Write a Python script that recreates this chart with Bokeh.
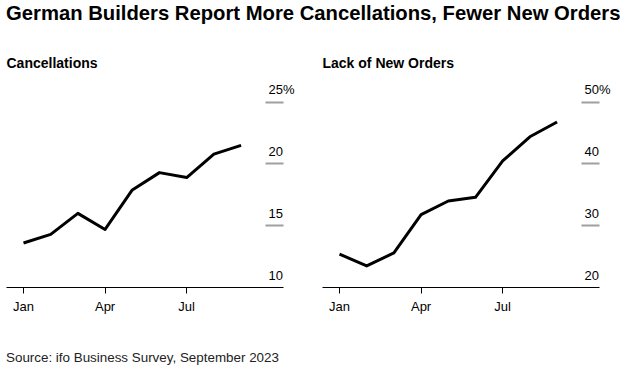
from bokeh.plotting import figure
from bokeh.layouts import column, row
from bokeh.models import Div, FixedTicker, LinearAxis, Range1d
from bokeh.embed import file_html
from bokeh.resources import INLINE

# ---- data ----
months = ["Jan", "Feb", "Mar", "Apr", "May", "Jun", "Jul", "Aug", "Sep"]
cancellations = [13.6, 14.3, 16.0, 14.7, 17.9, 19.3, 18.9, 20.8, 21.5]
lack_of_new_orders = [25.4, 23.5, 25.6, 31.8, 34.0, 34.6, 40.5, 44.4, 46.8]
x_tick_months = ["Jan", "Apr", "Jul"]
cancel_ticks = [10, 15, 20, 25]
orders_ticks = [20, 30, 40, 50]

TITLE = "German Builders Report More Cancellations, Fewer New Orders"
SOURCE = "Source: ifo Business Survey, September 2023"
FONT = "Liberation Sans"

X_START, X_END = -0.625, 9.56
FRAME_W, FRAME_H = 277, 210
LABEL_LIFT_PX = 12.4   # tick labels sit above their grid dash


def panel(title, values, ticks, y_end, border_left, border_right):
    p = figure(
        output_backend="svg", toolbar_location=None,
        frame_width=FRAME_W, frame_height=FRAME_H,
        min_border_left=border_left, min_border_right=border_right,
        min_border_top=33, min_border_bottom=49,
        x_range=Range1d(X_START, X_END),
        y_range=Range1d(ticks[0], y_end),
        y_axis_location=None,
        title=title,
    )
    p.outline_line_color = None
    p.xgrid.visible = False
    p.ygrid.visible = False
    p.background_fill_color = "white"
    p.border_fill_color = "white"

    p.title.text_font = FONT
    p.title.text_font_style = "bold"
    p.title.text_font_size = "14px"
    p.title.text_color = "#000000"
    p.title.align = "left"
    p.title.vertical_align = "bottom"
    p.title.offset = -2
    p.title.standoff = 10
    p.title.padding = 2

    xs = list(range(len(months)))
    p.line(xs, values, line_width=3, line_color="black", line_join="round")

    ax = p.xaxis[0]
    ax.ticker = FixedTicker(ticks=[months.index(m) for m in x_tick_months])
    ax.major_label_overrides = {months.index(m): m for m in x_tick_months}
    ax.minor_tick_line_color = None
    ax.axis_line_color = "black"
    ax.axis_line_width = 1
    ax.major_tick_line_color = "black"
    ax.major_tick_out = 6
    ax.major_tick_in = 0
    ax.major_label_text_font = FONT
    ax.major_label_text_font_size = "13px"
    ax.major_label_text_color = "#000000"
    ax.major_label_standoff = 5

    # grey dashes at the right edge of the frame
    dash_ax = LinearAxis(ticker=FixedTicker(ticks=ticks[1:]))
    dash_ax.axis_line_color = None
    dash_ax.major_tick_in = 18
    dash_ax.major_tick_out = 0
    dash_ax.major_tick_line_color = "#a0a0a0"
    dash_ax.major_tick_line_width = 2
    dash_ax.minor_tick_line_color = None
    dash_ax.major_label_text_font_size = "0px"
    dash_ax.major_label_text_alpha = 0
    dash_ax.major_label_standoff = 0
    p.add_layout(dash_ax, "right")

    # value labels, lifted above each dash
    lift = LABEL_LIFT_PX * (y_end - ticks[0]) / FRAME_H
    label_pos = [t + lift for t in ticks]
    texts = [str(t) for t in ticks]
    texts[-1] = texts[-1] + "%"
    lab_ax = LinearAxis(ticker=FixedTicker(ticks=label_pos))
    lab_ax.major_label_overrides = {pos: txt for pos, txt in zip(label_pos, texts)}
    lab_ax.axis_line_color = None
    lab_ax.major_tick_line_color = None
    lab_ax.minor_tick_line_color = None
    lab_ax.major_tick_in = 0
    lab_ax.major_tick_out = 0
    lab_ax.major_label_standoff = -15
    lab_ax.major_label_text_font = FONT
    lab_ax.major_label_text_font_size = "13px"
    lab_ax.major_label_text_color = "#000000"
    p.add_layout(lab_ax, "right")
    return p


p1 = panel("Cancellations", cancellations, cancel_ticks, 27, 6, 39)
p2 = panel("Lack of New Orders", lack_of_new_orders, orders_ticks, 54, 0, 25)

title_div = Div(
    text=f"<div style='font-family:\"{FONT}\";font-weight:bold;font-size:20.25px;line-height:22px;"
         f"color:#000;padding-top:2px;padding-left:6px;white-space:nowrap'>{TITLE}</div>",
    width=624, height=44, margin=(0, 0, 0, 0))
source_div = Div(
    text=f"<div style='font-family:\"{FONT}\";font-size:13.4px;line-height:15px;"
         f"color:#222;padding-top:14px;padding-left:6px;white-space:nowrap'>{SOURCE}</div>",
    width=624, height=38, margin=(0, 0, 0, 0))

layout = column(title_div, row(p1, p2, spacing=0), source_div, spacing=0)

open("out.html", "w").write(file_html(layout, INLINE))
